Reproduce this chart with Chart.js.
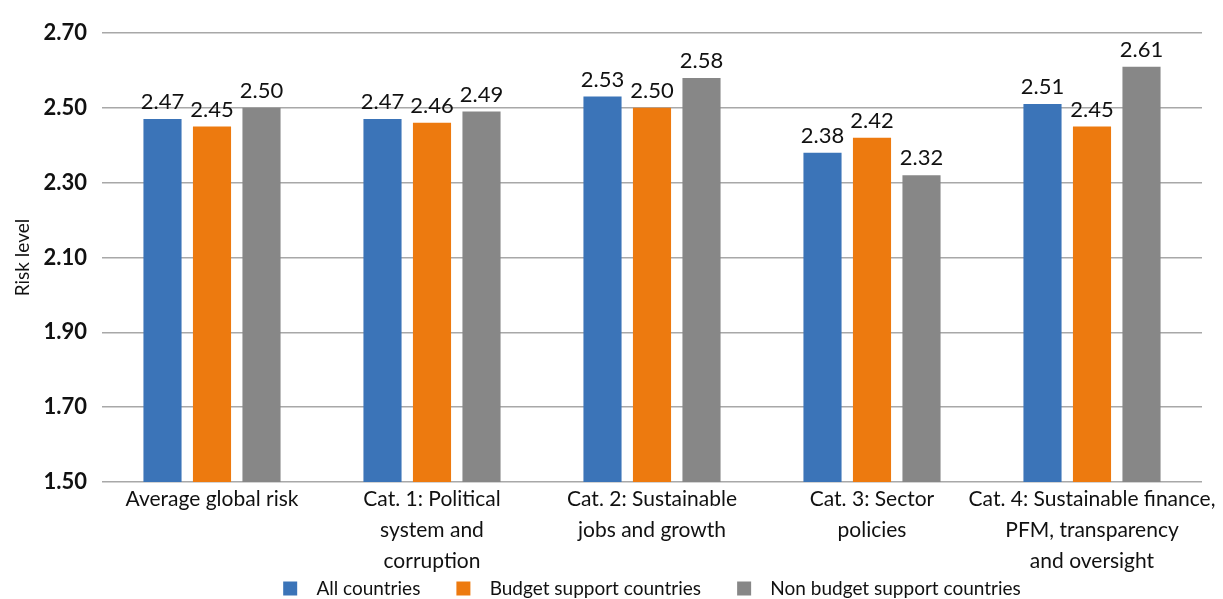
<!DOCTYPE html>
<html>
<head>
<meta charset="utf-8">
<script src="https://cdn.jsdelivr.net/npm/chart.js@4"></script>
<style>
  html, body { margin: 0; padding: 0; background: #fff; }
  #wrap { width: 1223px; height: 599px; }
</style>
</head>
<body>
<div id="wrap"><canvas id="grafico"></canvas></div>
<script>
// categorias e valores
const categorias = [
  "Average global risk",
  ["Cat. 1: Political", "system and", "corruption"],
  ["Cat. 2: Sustainable", "jobs and growth"],
  ["Cat. 3: Sector", "policies"],
  ["Cat. 4: Sustainable finance,", "PFM, transparency", "and oversight"],
];
const todosPaises = [2.47, 2.47, 2.53, 2.38, 2.51];
const paisesApoio = [2.45, 2.46, 2.50, 2.42, 2.45];
const paisesSemApoio = [2.5, 2.49, 2.58, 2.32, 2.61];
const ticksY = [1.5, 1.7, 1.9, 2.1, 2.3, 2.5, 2.7];

const fonte = "Lato, 'Open Sans', sans-serif";

// escreve o valor em cima de cada barra
const rotulosBarras = {
  id: "rotulosBarras",
  afterDatasetsDraw(chart) {
    const ctx = chart.ctx;
    ctx.save();
    ctx.font = "22px " + fonte;
    ctx.fillStyle = "#111";
    ctx.textAlign = "center";
    ctx.textBaseline = "alphabetic";
    chart.data.datasets.forEach((ds, i) => {
      const meta = chart.getDatasetMeta(i);
      meta.data.forEach((barra, j) => {
        ctx.fillText(ds.data[j].toFixed(2), barra.x, barra.y - 10);
      });
    });
    ctx.restore();
  },
};

// rótulos do eixo x sem corte e legenda um pouco para a direita
const ajusteLayout = {
  id: "ajusteLayout",
  afterLayout(chart) {
    chart.scales.x.bottom = chart.height;
    chart.legend.left += 51;
    chart.legend.right += 51;
  },
};

const dados = {
  labels: categorias,
  datasets: [
    { label: "All countries", data: todosPaises, backgroundColor: "#3b74b8" },
    { label: "Budget support countries", data: paisesApoio, backgroundColor: "#ed7a0f" },
    { label: "Non budget support countries", data: paisesSemApoio, backgroundColor: "#878787" },
  ],
};

const opcoes = {
  responsive: true,
  maintainAspectRatio: false,
  animation: false,
  datasets: { bar: { categoryPercentage: 0.675, barPercentage: 0.77 } },
  layout: { padding: { top: 33, right: 21, left: 0, bottom: -9 } },
  plugins: {
    tooltip: { enabled: false },
    legend: {
      position: "bottom",
      labels: {
        boxWidth: 14,
        boxHeight: 14,
        padding: 2,
        color: "#111",
        font: { family: fonte, size: 19 },
        generateLabels(chart) {
          const itens = Chart.defaults.plugins.legend.labels.generateLabels(chart);
          // espaço extra entre quadrado e texto e entre os itens
          itens.forEach((it, i) => {
            it.text = "  " + it.text;
            if (i < itens.length - 1) it.text = it.text + "       ";
          });
          return itens;
        },
      },
    },
  },
  scales: {
    x: {
      afterFit(scale) {
        scale.height = 95;
      },
      grid: { display: false },
      border: { display: false },
      ticks: {
        color: "#111",
        padding: -6,
        autoSkip: false,
        maxRotation: 0,
        font: { family: fonte, size: 21, lineHeight: 1.47 },
      },
    },
    y: {
      min: 1.5,
      max: 2.7,
      afterBuildTicks(scale) {
        scale.ticks = ticksY.map((v) => ({ value: v }));
      },
      afterFit(scale) {
        scale.width = 102;
      },
      grid: { color: "#a8a8a8", lineWidth: 1.5, drawTicks: false },
      border: { display: false },
      ticks: {
        color: "#111",
        padding: 15,
        font: { family: fonte, size: 22, weight: "bold" },
        callback: (v) => Number(v).toFixed(2),
      },
      title: {
        display: true,
        text: "Risk level",
        color: "#111",
        padding: { top: 11, bottom: 0 },
        font: { family: fonte, size: 19 },
      },
    },
  },
};

const ctx = document.getElementById("grafico").getContext("2d");
const grafico = new Chart(ctx, {
  type: "bar",
  data: dados,
  options: opcoes,
  plugins: [rotulosBarras, ajusteLayout],
});
</script>
</body>
</html>
